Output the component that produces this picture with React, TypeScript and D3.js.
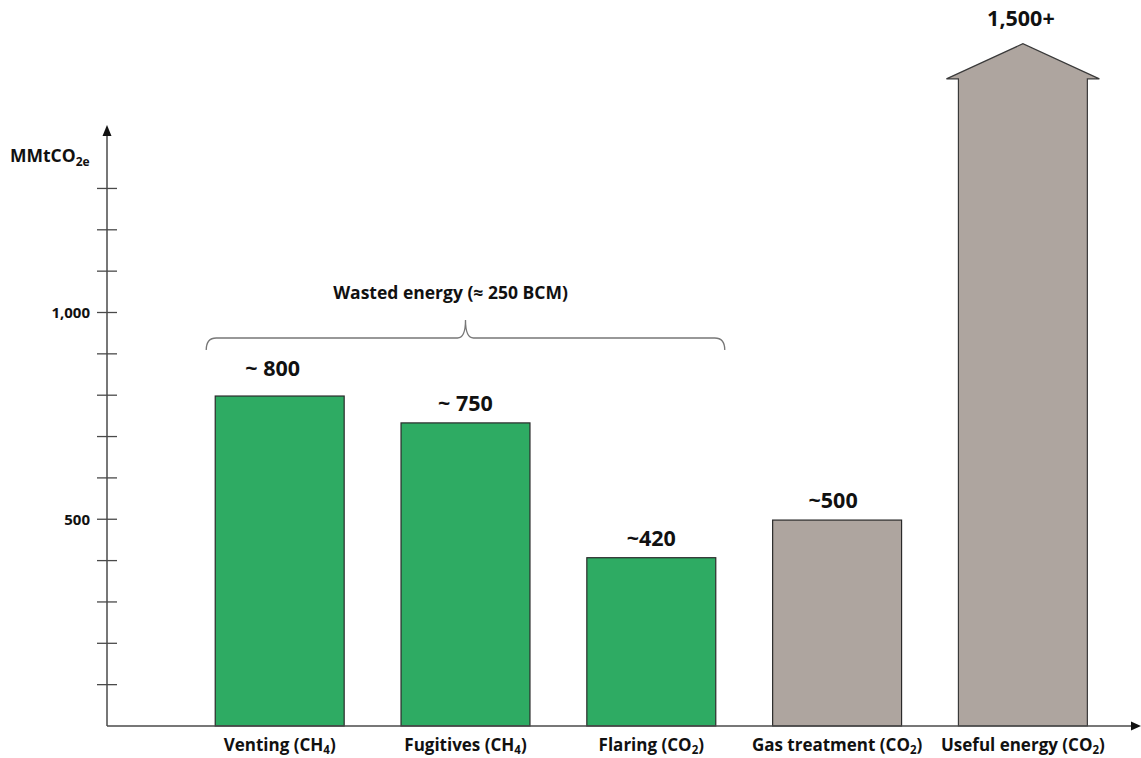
import React from "react";
import * as d3 from "d3";

const categories = ["Venting", "Fugitives", "Flaring", "Gas treatment", "Useful energy"];
const gases = ["CH", "CH", "CO", "CO", "CO"];
const gasSubs = ["4", "4", "2", "2", "2"];
const values = [798, 733, 407, 498, 1565];
const valueLabels = ["~ 800", "~ 750", "~420", "~500", "1,500+"];
const groups = ["wasted", "wasted", "wasted", "other", "other"];
const arrowTipValue = 1650;
const yTickValues = [100, 200, 300, 400, 500, 600, 700, 800, 900, 1000, 1100, 1200, 1300];
const yLabeledTicks = [500, 1000];
const braceLabel = "Wasted energy (≈ 250 BCM)";

const W = 1141;
const H = 758;
const FONT = "'Open Sans', Lato, sans-serif";

export default function App() {
  const y = d3.scaleLinear().domain([0, 1000]).range([726, 312.5]);
  const step = 185.8;
  const c0 = 279.7;
  const x = d3
    .scaleBand<string>()
    .domain(categories)
    .range([c0 - step / 2, c0 + 4 * step + step / 2])
    .paddingInner(0.306)
    .paddingOuter(0.153);
  const bw = x.bandwidth();
  const axisX = 107;
  const axisColor = "#4a4a4a";
  const green = "#2eab63";
  const gray = "#aea59f";

  const b0 = x(categories[0])! - 9;
  const b1 = x(categories[2])! + bw + 9;
  const bm = (b0 + b1) / 2;
  const bl = 338;
  const bEnd = 350;
  const bPeak = 320;
  const bracePath = `M${b0},${bEnd} Q${b0},${bl} ${b0 + 10},${bl} L${bm - 8},${bl} Q${bm},${bl} ${bm},${bPeak} Q${bm},${bl} ${bm + 8},${bl} L${b1 - 10},${bl} Q${b1},${bl} ${b1},${bEnd}`;

  return (
    <svg width={W} height={H} style={{ position: "absolute", left: 0, top: 0, background: "#fff" }}>
      <rect x={0} y={0} width={W} height={H} fill="#fff" />
      {/* bars */}
      {categories.map((c, i) => {
        const x0 = x(c)!;
        const fill = groups[i] === "wasted" ? green : gray;
        if (i === categories.length - 1) {
          const top = y(values[i]);
          const tip = y(arrowTipValue);
          const head = 12;
          const p = `M${x0},${y(0)} L${x0},${top} L${x0 - head},${top} L${x0 + bw / 2},${tip} L${x0 + bw + head},${top} L${x0 + bw},${top} L${x0 + bw},${y(0)} Z`;
          return <path key={c} d={p} fill={fill} stroke="#3a3a3a" strokeWidth={1.2} />;
        }
        return (
          <rect
            key={c}
            x={x0}
            y={y(values[i])}
            width={bw}
            height={y(0) - y(values[i])}
            fill={fill}
            stroke="#2a2a2a"
            strokeWidth={1.2}
          />
        );
      })}
      {/* value labels */}
      {categories.map((c, i) => {
        const cx = x(c)! + bw / 2 - (i === 0 ? 7 : 0) - (i === 3 ? 4 : 0) - (i === 4 ? 2 : 0);
        const yy = i === categories.length - 1 ? y(arrowTipValue) - 18 : y(values[i]) - (i === 0 ? 20 : 12);
        return (
          <text key={c} x={cx} y={yy} textAnchor="middle" fontFamily={FONT} fontWeight="bold" fontSize={21.5} fill="#111">
            {valueLabels[i]}
          </text>
        );
      })}
      {/* y axis */}
      <line x1={axisX} x2={axisX} y1={y(0)} y2={134} stroke={axisColor} strokeWidth={1.5} />
      <path d={`M${axisX - 4.5},${136} L${axisX},${125} L${axisX + 4.5},${136} Z`} fill="#111" />
      {yTickValues.map((t) => (
        <line key={t} x1={axisX - 10} x2={axisX + 10} y1={y(t)} y2={y(t)} stroke={axisColor} strokeWidth={1.3} />
      ))}
      {yLabeledTicks.map((t) => (
        <text key={t} x={90} y={y(t) + 5.5} textAnchor="end" fontFamily={FONT} fontWeight="bold" fontSize={15} fill="#111">
          {d3.format(",")(t)}
        </text>
      ))}
      <text x={10} y={162} fontFamily={FONT} fontWeight="bold" fontSize={17.5} fill="#111">
        MMtCO
        <tspan fontSize={12} dy={4}>2e</tspan>
      </text>
      {/* x axis */}
      <line x1={axisX} x2={1133} y1={y(0)} y2={y(0)} stroke={axisColor} strokeWidth={1.5} />
      <path d={`M1131,${y(0) - 4.5} L1141,${y(0)} L1131,${y(0) + 4.5} Z`} fill="#111" />
      {/* category labels */}
      {categories.map((c, i) => (
        <text
          key={c}
          x={x(c)! + bw / 2}
          y={751}
          textAnchor="middle"
          fontFamily={FONT}
          fontWeight="bold"
          fontSize={17}
          fill="#111"
        >
          {c} ({gases[i]}
          <tspan fontSize={11.5} dy={3}>{gasSubs[i]}</tspan>
          <tspan dy={-3}>)</tspan>
        </text>
      ))}
      {/* brace */}
      <path d={bracePath} fill="none" stroke="#777" strokeWidth={1.3} />
      <text x={bm - 15} y={299} textAnchor="middle" fontFamily={FONT} fontWeight="bold" fontSize={17.5} fill="#111">
        {braceLabel}
      </text>
    </svg>
  );
}
